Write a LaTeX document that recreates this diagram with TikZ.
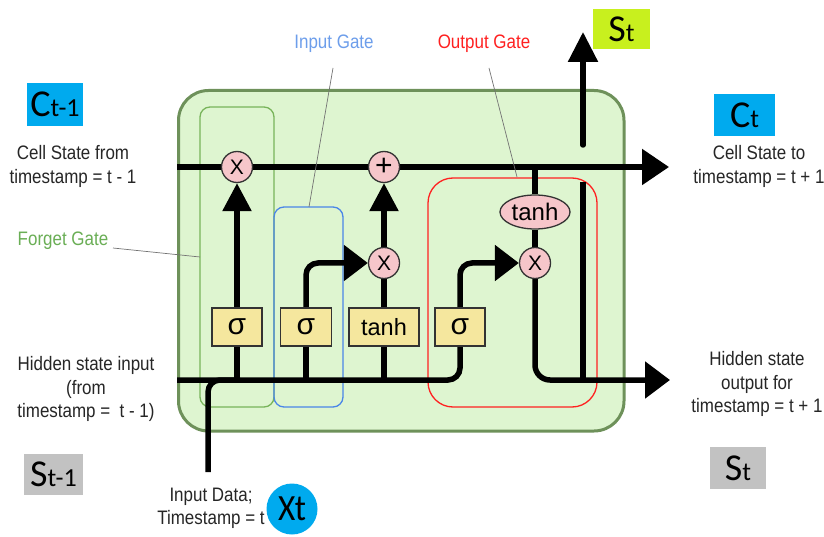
\documentclass[tikz,border=0pt]{standalone}
\usepackage{fontspec}
\usetikzlibrary{arrows.meta,shapes.geometric}
\newfontfamily\lblfont[FakeStretch=0.87]{Liberation Sans}
\newfontfamily\symfont{Liberation Sans}
\newfontfamily\carl{Carlito}
\newfontfamily\carlc[FakeStretch=0.9]{Carlito}
\definecolor{cellfill}{HTML}{DEF5D0}
\definecolor{celledge}{HTML}{6E915A}
\definecolor{fgedge}{HTML}{78B45A}
\definecolor{fgtext}{HTML}{6AAE55}
\definecolor{igedge}{HTML}{4A86E8}
\definecolor{igtext}{HTML}{6D9EEB}
\definecolor{ogedge}{HTML}{FF2020}
\definecolor{pinkop}{HTML}{F6C6CA}
\definecolor{yellowop}{HTML}{F5E79E}
\definecolor{cyanlab}{HTML}{00AAEE}
\definecolor{limelab}{HTML}{C8F01E}
\definecolor{graylab}{HTML}{C2C2C2}
\pgfdeclarelayer{bg}
\pgfdeclarelayer{wires}
\pgfsetlayers{bg,wires,main}
\newcommand\bigsub[2]{{\carl\fontsize{38}{38}\selectfont #1}{\carl\fontsize{26}{26}\selectfont #2}}
\begin{document}
\begin{tikzpicture}[x=1pt,y=-1pt,
  lbl/.style={font=\lblfont\fontsize{19.5}{23.5}\selectfont, text=black!85, align=center, inner sep=0pt},
  opcirc/.style={circle, draw=black!80, line width=1.3pt, fill=pinkop, minimum size=31pt, inner sep=0pt, font=\symfont\fontsize{21}{21}\selectfont},
  opbox/.style={rectangle, draw=black!80, line width=1.3pt, fill=yellowop, minimum height=38pt, inner sep=0pt, font=\symfont\fontsize{23.5}{23.5}\selectfont},
  opell/.style={ellipse, draw=black!80, line width=1.3pt, fill=pinkop, minimum width=70pt, minimum height=34pt, inner sep=0pt, font=\symfont\fontsize{24}{24}\selectfont},
  letbox/.style={rectangle, inner sep=0pt, text=black},
  wire/.style={line width=5.5pt, draw=black},
  leader/.style={draw=black!55, line width=0.7pt},
  gatebox/.style={line width=1.3pt},
  tipbig/.style={-{Triangle[length=27pt,width=35pt]}},
  tipup/.style={-{Triangle[length=28pt,width=28pt]}},
  tipside/.style={-{Triangle[length=24pt,width=35pt]}}
]
\useasboundingbox (0,0) rectangle (824,537);

% ---------- background: cell and gates ----------
\begin{pgfonlayer}{bg}
  \fill[white] (0,0) rectangle (824,537);
  \draw[fill=cellfill, draw=celledge, line width=3pt, rounded corners=30pt] (178.5,90.5) rectangle (624,431);
  \draw[gatebox, draw=fgedge, rounded corners=10pt] (200,107) rectangle (274,407);
  \draw[gatebox, draw=igedge, rounded corners=10pt] (274,207) rectangle (343,407);
  \draw[gatebox, draw=ogedge, rounded corners=25pt] (428,178) rectangle (597,407);
\end{pgfonlayer}

% ---------- operation nodes ----------
\node[opcirc] (fx) at (237,167) {X};
\node[opcirc, font=\symfont\fontsize{30}{30}\selectfont] (plus) at (384,167) {+};
\node[opcirc] (mi) at (384,263) {X};
\node[opcirc] (mo) at (535,263) {X};
\node[opell] (th) at (535,212) {tanh};
\node[opbox, minimum width=50pt, font=\symfont\fontsize{30}{30}\selectfont] (s1) at (237,327) {σ};
\node[opbox, minimum width=51pt, font=\symfont\fontsize{30}{30}\selectfont] (s2) at (306,327) {σ};
\node[opbox, minimum width=70pt] (tb) at (384,327) {tanh};
\node[opbox, minimum width=50pt, font=\symfont\fontsize{30}{30}\selectfont] (s4) at (460,327) {σ};

% ---------- free ends ----------
\coordinate (cin) at (177,167);
\coordinate (cout) at (669,167);
\coordinate (hin) at (177,380);
\coordinate (hout) at (670,380);
\coordinate (xin) at (208,472);
\coordinate (xj) at (240,380);
\coordinate (tj) at (535,167);
\coordinate (vj) at (583,380);
\coordinate (vb) at (583,182);
\coordinate (vt) at (583,145);
\coordinate (stip) at (583,32);

% ---------- wires ----------
\begin{pgfonlayer}{wires}
  \draw[wire, tipbig] (cin) -- (cout);
  \draw[wire, rounded corners=12pt] (hin) -| (s4.south);
  \draw[wire, rounded corners=12pt] (xin) |- (xj);
  \draw[wire] (s1.south) -- (s1.south |- hin);
  \draw[wire] (s2.south) -- (s2.south |- hin);
  \draw[wire] (tb.south) -- (tb.south |- hin);
  \draw[wire, tipup] (s1.north) -- (fx.south);
  \draw[wire, tipup] (mi.north) -- (plus.south);
  \draw[wire] (tb.north) -- (mi.south);
  \draw[wire, tipside, rounded corners=12pt] (s2.north) |- (mi.west);
  \draw[wire, tipside, rounded corners=12pt] (s4.north) |- (mo.west);
  \draw[wire] (tj) -- (th.north);
  \draw[wire] (th.south) -- (mo.north);
  \draw[wire, rounded corners=15pt, -{Triangle[length=25pt,width=36pt]}] (mo.south) |- (hout);
  \draw[wire] (vj) -- (vb);
  \draw[wire, line cap=round, -{Triangle[length=30pt,width=29pt]}] (vt) -- (stip);
\end{pgfonlayer}

% ---------- gate labels and leaders ----------
\node[lbl, text=igtext] (iglab) at (334,44) {Input Gate};
\node[lbl, text=ogedge] (oglab) at (484,44) {Output Gate};
\node[lbl, text=fgtext] (fglab) at (63,241) {Forget Gate};
\coordinate (igA) at (333,68);
\coordinate (igB) at (309,207);
\coordinate (ogA) at (489,68);
\coordinate (ogB) at (517,177);
\coordinate (fgA) at (113,248);
\coordinate (fgB) at (200,257);
\begin{pgfonlayer}{wires}
  \draw[leader] (igA) -- (igB);
  \draw[leader] (ogA) -- (ogB);
  \draw[leader] (fgA) -- (fgB);
\end{pgfonlayer}

% ---------- descriptive labels ----------
\node[lbl] (cslab) at (73,166.5) {Cell State from\\timestamp = t - 1};
\node[lbl] (ctlab) at (759,166.5) {Cell State to\\timestamp = t + 1};
\node[lbl] (hinlab) at (86,389) {Hidden state input\\(from\\timestamp =\ \ t - 1)};
\node[lbl] (houtlab) at (757,384) {Hidden state\\output for\\timestamp = t + 1};
\node[lbl] (xlab) at (211,508.5) {Input Data;\\Timestamp = t};

% ---------- symbol boxes ----------
\node[letbox, fill=cyanlab, minimum width=56pt, minimum height=43pt] (ctm1) at (55,104.5) {\bigsub{C}{t-1}};
\node[letbox, fill=cyanlab, minimum width=61pt, minimum height=42pt] (ct) at (744.5,115) {\bigsub{C}{t}};
\node[letbox, fill=limelab, minimum width=57pt, minimum height=40pt] (sttop) at (621.5,29) {\bigsub{S}{t}};
\node[letbox, fill=graylab, minimum width=59pt, minimum height=41pt] (stm1) at (53.5,474.5) {\bigsub{S}{t-1}};
\node[letbox, fill=graylab, minimum width=56pt, minimum height=42pt] (stout) at (738,468) {\bigsub{S}{t}};
\node[circle, fill=cyanlab, minimum size=51pt, inner sep=0pt, font=\carlc\fontsize{37}{37}\selectfont] (xt) at (292,509) {Xt};
\end{tikzpicture}
\end{document}
